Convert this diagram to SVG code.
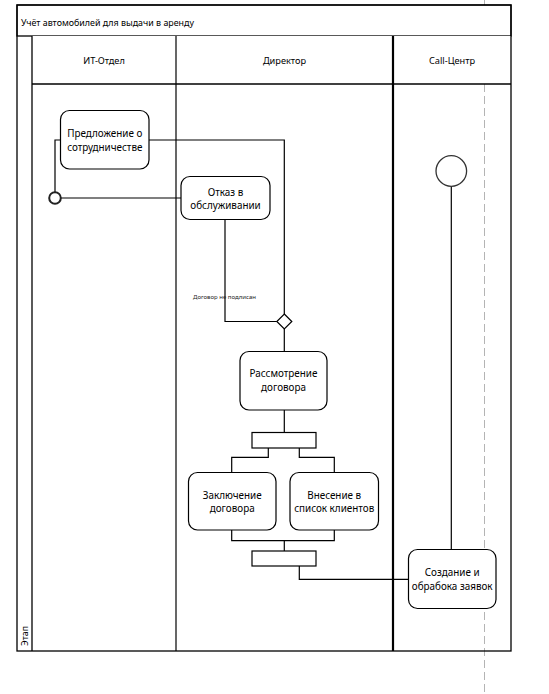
<svg xmlns="http://www.w3.org/2000/svg" width="549" height="694" viewBox="0 0 549 694">
<style>
text{font-family:"Noto Sans","Open Sans","DejaVu Sans",sans-serif;fill:#000;text-anchor:middle}
.t{font-size:9.9px}
.h{font-size:9.2px}
.act{fill:#fff;stroke:#000;stroke-width:1.2}
.bar{fill:#fff;stroke:#000;stroke-width:1.2}
.frame{fill:none;stroke:#000;stroke-width:1.3}
.conn path{fill:none;stroke:#000;stroke-width:1.2}
</style>
<rect x="0" y="0" width="549" height="694" fill="#fff"/>
<line x1="484.5" y1="0" x2="484.5" y2="694" stroke="#b4b4b4" stroke-width="1" stroke-dasharray="8,4"/>
<g id="pool">
<rect x="17" y="5" width="494" height="31" fill="#fff" stroke="#000" stroke-width="1.3"/>
<rect x="32" y="36" width="479" height="48" fill="#fff" stroke="none"/>
<text x="21" y="25.5" style="font-size:8.9px;text-anchor:start">Учёт автомобилей для выдачи в аренду</text>
<rect class="frame" x="17" y="5" width="494" height="646"/>
<line x1="32" y1="84" x2="511" y2="84" stroke="#000" stroke-width="1.3"/>
<line x1="32" y1="36" x2="32" y2="651" stroke="#000" stroke-width="1.3"/>
<line x1="176" y1="36" x2="176" y2="651" stroke="#000" stroke-width="1.2"/>
<line x1="393" y1="36" x2="393" y2="651" stroke="#000" stroke-width="2.2"/>
<text class="h" x="104" y="64">ИТ-Отдел</text>
<text class="h" x="284.5" y="64">Директор</text>
<text class="h" x="452" y="64">Call-Центр</text>
<text x="28" y="636" transform="rotate(-90 28 636)" style="font-size:8.8px;text-anchor:middle">Этап</text>
</g>
<g class="conn" id="connectors">
<path d="M60.5,140 H55 V192.5"/>
<path d="M149,140 H284.3 V314"/>
<path d="M60.5,198 H181"/>
<path d="M225,219.5 V321.5 H276.8"/>
<path d="M284.3,329 V351.5"/>
<path d="M284.3,410 V432.5"/>
<path d="M268.3,448 V457.3 H231.7 V472.5"/>
<path d="M299.3,448 V457.3 H334.3 V472.5"/>
<path d="M231.7,530 V540.7 H334.3 V530"/>
<path d="M284.3,540.7 V551"/>
<path d="M299.3,566 V579.3 H408.5"/>
<path d="M451.3,186.3 V549.5"/>
<text x="224.5" y="299" style="font-size:6px;fill:#222">Договор не подлисан</text>
</g>
<g id="n-offer">
<rect class="act" x="60.5" y="110.5" width="88.5" height="58.5" rx="9"/>
<text class="t" x="104.8" y="137">Предложение о</text>
<text class="t" x="104.8" y="150.5">сотрудничестве</text>
</g>
<g id="n-start-it">
<circle cx="55" cy="198" r="5.8" fill="#fff" stroke="#222" stroke-width="2"/>
</g>
<g id="n-refuse">
<rect class="act" x="181" y="176.5" width="89" height="43" rx="9"/>
<text class="t" x="225.5" y="196">Отказ в</text>
<text class="t" x="225.5" y="209">обслуживании</text>
</g>
<g id="n-decision">
<path class="act" d="M284.3,314 L291.8,321.5 L284.3,329 L276.8,321.5 Z"/>
</g>
<g id="n-review">
<rect class="act" x="240" y="351.5" width="87" height="58.5" rx="9"/>
<text class="t" x="283.5" y="377">Рассмотрение</text>
<text class="t" x="283.5" y="391">договора</text>
</g>
<g id="n-fork">
<rect class="bar" x="252" y="432.5" width="64" height="15.5"/>
</g>
<g id="n-contract">
<rect class="act" x="188.5" y="472.5" width="87.5" height="57.5" rx="9"/>
<text class="t" x="232.2" y="498.5">Заключение</text>
<text class="t" x="232.2" y="512">договора</text>
</g>
<g id="n-clients">
<rect class="act" x="290" y="472.5" width="88.5" height="57.5" rx="9"/>
<text class="t" x="334.2" y="498.5">Внесение в</text>
<text class="t" x="334.2" y="512">список клиентов</text>
</g>
<g id="n-join">
<rect class="bar" x="252" y="551" width="64" height="15"/>
</g>
<g id="n-start-call">
<circle cx="451.3" cy="171" r="15.3" fill="#fff" stroke="#333" stroke-width="1.3"/>
</g>
<g id="n-orders">
<rect class="act" x="408.5" y="549.5" width="87.5" height="59" rx="9"/>
<text class="t" x="452.2" y="576">Создание и</text>
<text class="t" x="452.2" y="590">обрабока заявок</text>
</g>
</svg>
